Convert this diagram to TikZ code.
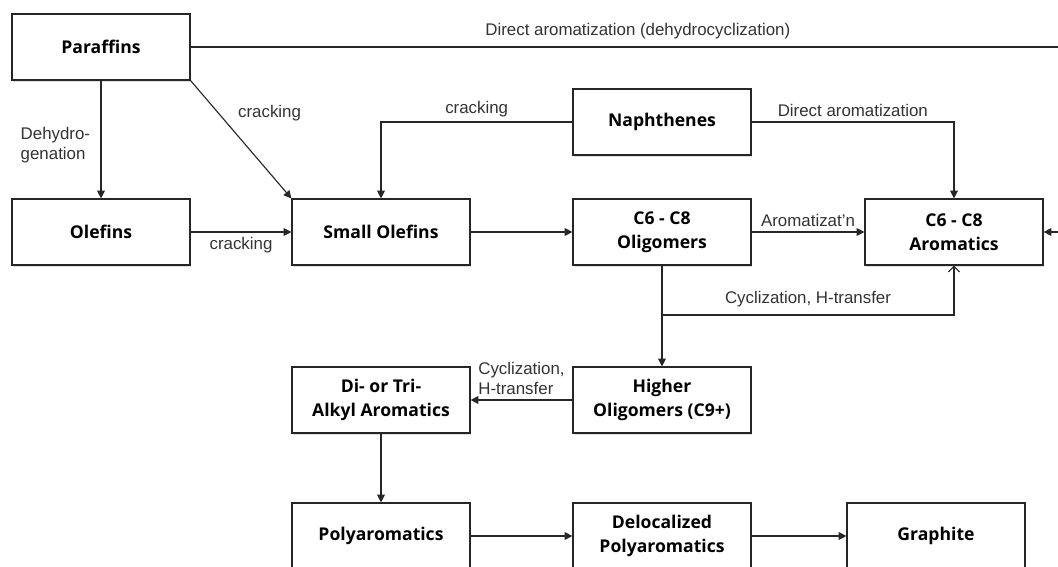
\documentclass[tikz,border=0pt]{standalone}
\usepackage{fontspec}
\setmainfont{Liberation Sans}
\newfontfamily\boxfont{Open Sans}
\usetikzlibrary{arrows.meta,shadows,positioning}

\tikzset{
  proc/.style={draw=black!85, fill=white, line width=0.8pt, minimum width=4.45cm, minimum height=1.65cm,
    align=center, font=\boxfont\bfseries\fontsize{12.5}{17}\selectfont,
    drop shadow={shadow xshift=1pt, shadow yshift=-1.5pt, opacity=0.25}},
  lbl/.style={font=\fontsize{12}{14}\selectfont, text=black!80},
  arr/.style={draw=black!85, line width=0.8pt, -{Triangle[length=5.5pt,width=5.5pt]}},
  oarr/.style={draw=black!85, line width=0.8pt, -{Straight Barb[length=4pt,width=8pt]}},
}

\begin{document}
\begin{tikzpicture}[x=0.025cm, y=-0.025cm]
  \clip (0,0) rectangle (1058,566);
  \fill[white] (0,0) rectangle (1058,566);

  % feeds
  \node[proc] (par) at (101,47) {Paraffins};
  \node[proc] (nap) at (662,122) {Naphthenes};

  % second row
  \node[proc] (ole) at (101,232) {Olefins};
  \node[proc] (sma) at (381,232) {Small Olefins};
  \node[proc] (oli) at (662,232) {C6 - C8\\Oligomers};
  \node[proc] (aro) at (954,232) {C6 - C8\\Aromatics};

  % heavier products
  \node[proc] (hig) at (662,400) {Higher\\Oligomers (C9+)};
  \node[proc] (dit) at (381,400) {Di- or Tri-\\Alkyl Aromatics};
  \node[proc] (pol) at (381,536) {Polyaromatics};
  \node[proc] (del) at (662,536) {Delocalized\\Polyaromatics};
  \node[proc] (gra) at (936,536) {Graphite};

  \coordinate (rgt) at (1085,47);
  \coordinate (cyc) at (662,315);

  % paraffins routes
  \draw[arr] (par) -- node[lbl, pos=0.55, left=4pt, align=left] {Dehydro-\\genation} (ole);
  \draw[arr] (par.south east) -- node[lbl, pos=0.28, right=10pt] {cracking} (sma.north west);
  \draw[arr] (par.east) -- node[lbl, above=2pt] {Direct aromatization (dehydrocyclization)} (rgt) |- (aro.east);

  % naphthenes routes
  \draw[arr] (nap.west) -| node[lbl, pos=0.25, above] {cracking} (sma.north);
  \draw[arr] (nap.east) -| node[lbl, pos=0.25, above] {Direct aromatization} (aro.north);

  % main chain
  \draw[arr] (ole) -- node[lbl, below] {cracking} (sma);
  \draw[arr] (sma) -- (oli);
  \draw[arr] (oli) -- node[lbl, above] {Aromatizat'n} (aro);
  \draw[arr] (oli) -- (hig);
  \draw[oarr] (cyc) -| node[lbl, pos=0.25, above=2pt] {Cyclization, H-transfer} (aro.south);

  % towards graphite
  \draw[arr] (hig) -- node[lbl, above, align=left] {Cyclization,\\H-transfer} (dit);
  \draw[arr] (dit) -- (pol);
  \draw[arr] (pol) -- (del);
  \draw[arr] (del) -- (gra);
\end{tikzpicture}
\end{document}
